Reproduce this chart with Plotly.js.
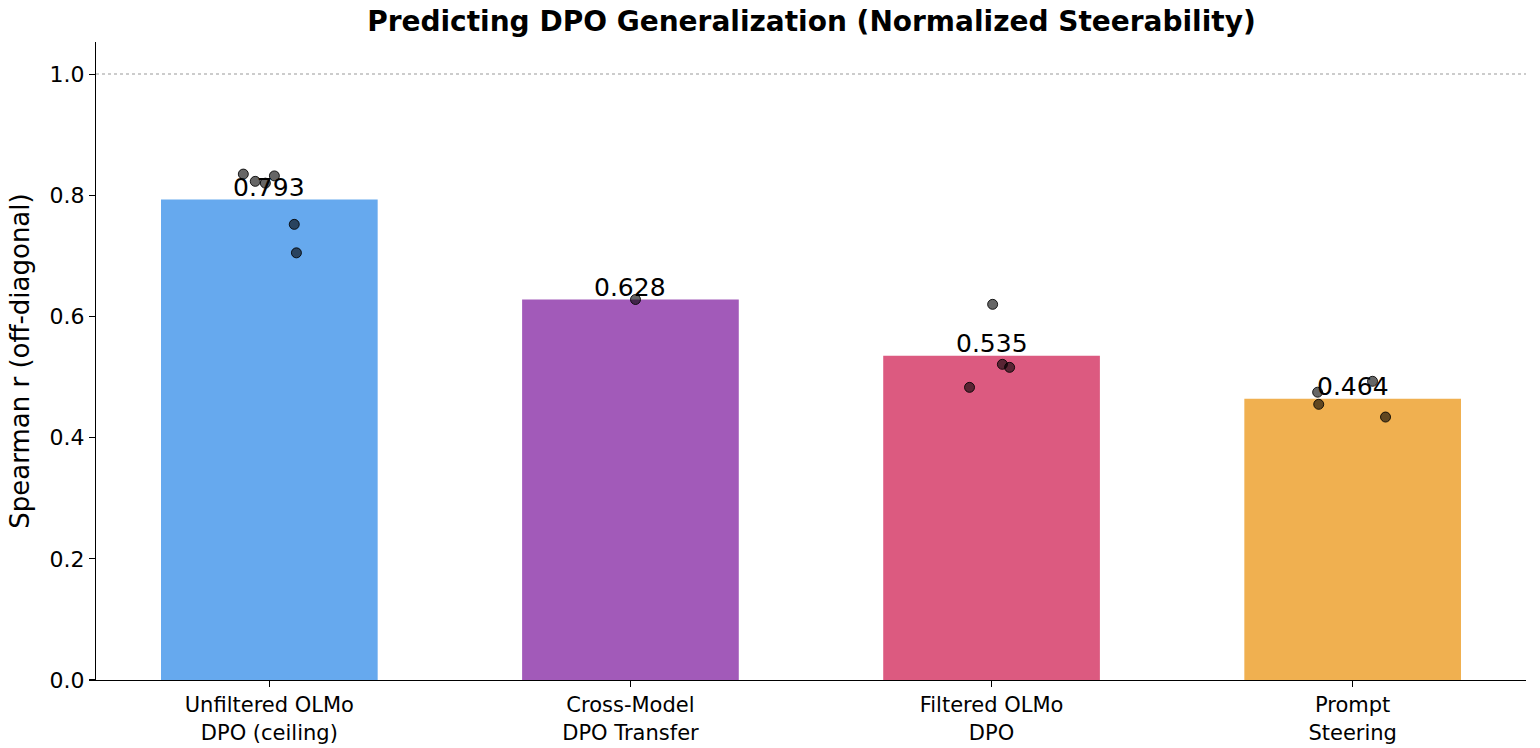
<!DOCTYPE html>
<html>
<head>
<meta charset="utf-8">
<script src="https://cdn.plot.ly/plotly-3.0.1.min.js"></script>
<style>
  html, body { margin: 0; padding: 0; background: #fff; }
  #chart { width: 1540px; height: 748px; }
</style>
</head>
<body>
<div id="chart"></div>
<script>
// Methods compared
const categories = [
  "Unfiltered OLMo<br>DPO (ceiling)",
  "Cross-Model<br>DPO Transfer",
  "Filtered OLMo<br>DPO",
  "Prompt<br>Steering"
];
// Mean off-diagonal Spearman r per method
const meanValues = [0.793, 0.628, 0.535, 0.464];
const barColors = ["#66a9ee", "#a25ab9", "#dc5a80", "#f0b050"];

// Individual runs per method (jittered horizontal offsets within each bar)
const pointGroup = [0, 0, 0, 0, 0, 0, 1, 2, 2, 2, 2, 3, 3, 3, 3];
const pointJitter = [-0.072, -0.039, -0.011, 0.014, 0.069, 0.075,
                     0.014,
                     0.003, 0.030, 0.050, -0.061,
                     -0.097, -0.094, 0.055, 0.091];
const pointValues = [0.835, 0.823, 0.820, 0.832, 0.752, 0.705,
                     0.628,
                     0.620, 0.521, 0.516, 0.483,
                     0.475, 0.455, 0.493, 0.434];

const xIdx = categories.map((_, i) => i);
const font = "DejaVu Sans, sans-serif";

const bars = {
  type: "bar",
  x: xIdx,
  y: meanValues,
  width: 0.6,
  marker: { color: barColors, line: { width: 0 } },
  hoverinfo: "skip",
  showlegend: false
};

const points = {
  type: "scatter",
  mode: "markers",
  x: pointGroup.map((g, k) => g + pointJitter[k]),
  y: pointValues,
  marker: {
    size: 10,
    color: "rgba(0,0,0,0.6)",
    line: { color: "rgba(0,0,0,0.85)", width: 1 }
  },
  hoverinfo: "skip",
  showlegend: false
};

const valueLabels = meanValues.map((v, i) => ({
  x: i, y: v, xref: "x", yref: "y",
  text: v.toFixed(3),
  showarrow: false,
  yanchor: "bottom",
  yshift: -4,
  font: { family: font, size: 25, color: "#000" }
}));

const layout = {
  width: 1540,
  height: 748,
  margin: { l: 96, r: 14, t: 42, b: 68 },
  paper_bgcolor: "#fff",
  plot_bgcolor: "#fff",
  title: {
    text: "<b>Predicting DPO Generalization (Normalized Steerability)</b>",
    font: { family: font, size: 28, color: "#000" },
    x: 0.5269, xanchor: "center",
    y: 0.972, yanchor: "middle"
  },
  xaxis: {
    range: [-0.48, 3.48],
    tickvals: xIdx,
    ticktext: categories,
    ticks: "outside",
    ticklen: 6,
    tickwidth: 1.2,
    tickcolor: "#000",
    showline: true,
    linecolor: "#000",
    linewidth: 1.2,
    showgrid: false,
    zeroline: false,
    tickfont: { family: font, size: 21, color: "#000" }
  },
  yaxis: {
    range: [0, 1.053],
    tickvals: [0, 0.2, 0.4, 0.6, 0.8, 1.0],
    ticktext: ["0.0", "0.2", "0.4", "0.6", "0.8", "1.0"],
    ticks: "outside",
    ticklen: 6,
    tickwidth: 1.2,
    tickcolor: "#000",
    showline: true,
    linecolor: "#000",
    linewidth: 1.2,
    showgrid: false,
    zeroline: false,
    tickfont: { family: font, size: 22, color: "#000" },
    title: {
      text: "Spearman r (off-diagonal)",
      font: { family: font, size: 26, color: "#000" },
      standoff: 12
    }
  },
  shapes: [{
    type: "line", xref: "paper", yref: "y",
    x0: 0, x1: 1, y0: 1.0, y1: 1.0,
    line: { color: "#cccccc", width: 2, dash: "dot" },
    layer: "below"
  }],
  annotations: valueLabels
};

Plotly.newPlot("chart", [bars, points], layout, { displayModeBar: false, staticPlot: true });
</script>
</body>
</html>
